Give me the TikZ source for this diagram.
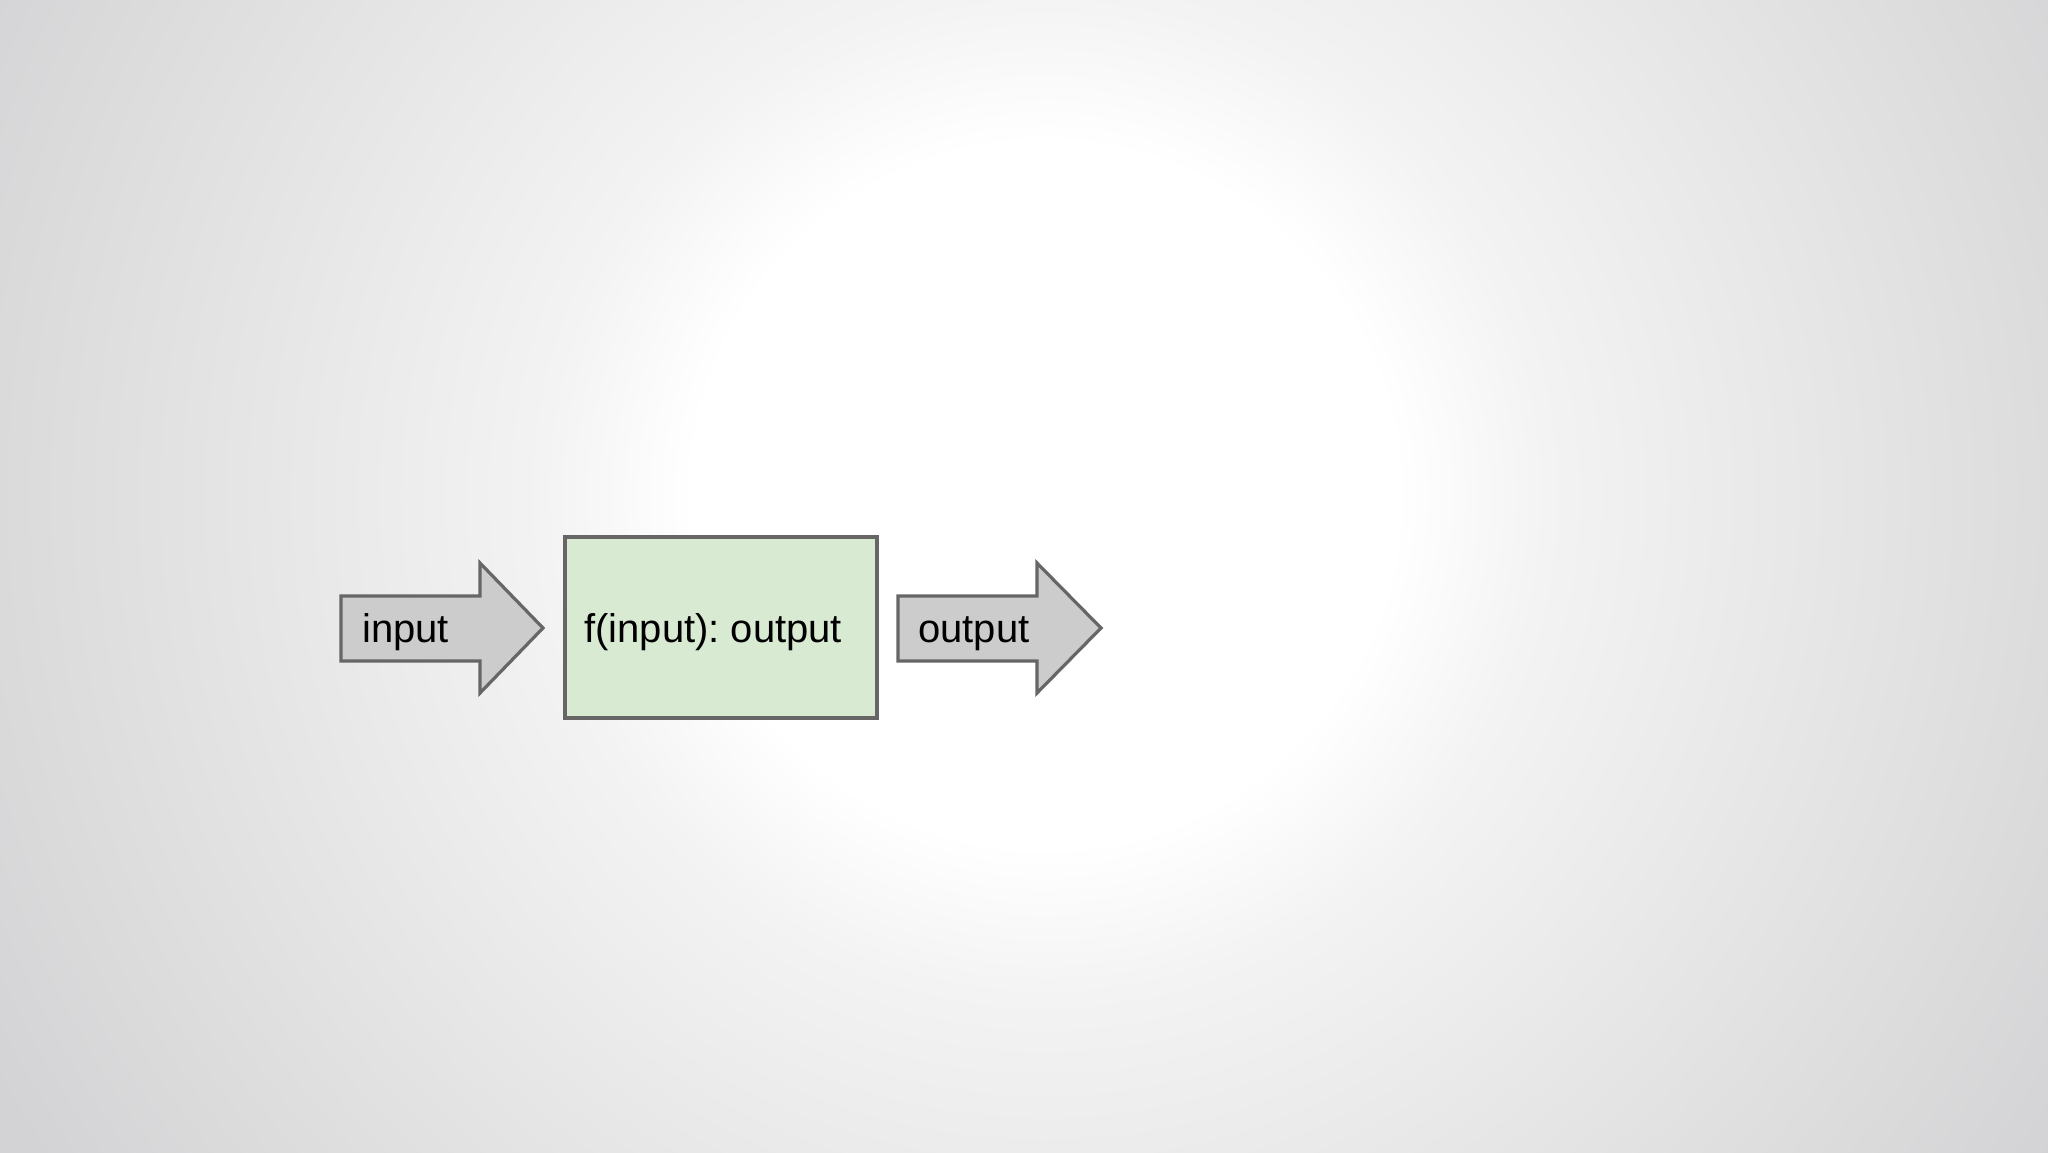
\documentclass[tikz,border=0pt]{standalone}
\usepackage{fontspec}
\setmainfont{Liberation Sans}
\frenchspacing
\definecolor{bgA}{RGB}{243,243,243}
\definecolor{bgB}{RGB}{218,218,219}
\definecolor{bgC}{RGB}{211,211,214}
\definecolor{arrowfill}{RGB}{204,204,204}
\definecolor{boxfill}{RGB}{217,234,211}
\definecolor{edge}{RGB}{102,102,102}
\pgfdeclareradialshading{bgshade}{\pgfpoint{0bp}{0bp}}{color(0bp)=(white); color(14bp)=(white); color(20bp)=(bgA); color(41.8bp)=(bgB); color(48bp)=(bgC); color(50bp)=(bgC)}
\tikzset{
  shapeline/.style={draw=edge, line width=3.2pt, line join=miter},
  arrowshape/.style={shapeline, fill=arrowfill},
  boxshape/.style={shapeline, fill=boxfill},
  lbl/.style={anchor=base west, inner sep=0pt, font=\fontsize{40}{48}\selectfont, text=black}
}
\begin{document}
\begin{tikzpicture}[x=1pt, y=-1pt]
\useasboundingbox (0,0) rectangle (2048,1152);
\begin{scope}
\clip (0,0) rectangle (2048,1152);
\fill[bgC] (0,0) rectangle (2048,1152);
\node[inner sep=0pt, outer sep=0pt, scale=25] (bg) at (1045,495) {\pgfuseshading{bgshade}};
\end{scope}
% input arrow
\draw[arrowshape] (341,596) -- (480,596) -- (480,563) -- (543,628) -- (480,693) -- (480,661) -- (341,661) -- cycle;
% function box
\draw[boxshape] (565,537) rectangle (877,718);
% output arrow
\draw[arrowshape] (898,596) -- (1037,596) -- (1037,563) -- (1101,628) -- (1037,693) -- (1037,661) -- (898,661) -- cycle;
\node[lbl] (in) at (362,642) {input};
\node[lbl] (fn) at (584,642) {f(input): output};
\node[lbl] (out) at (918,642) {output};
\end{tikzpicture}
\end{document}
